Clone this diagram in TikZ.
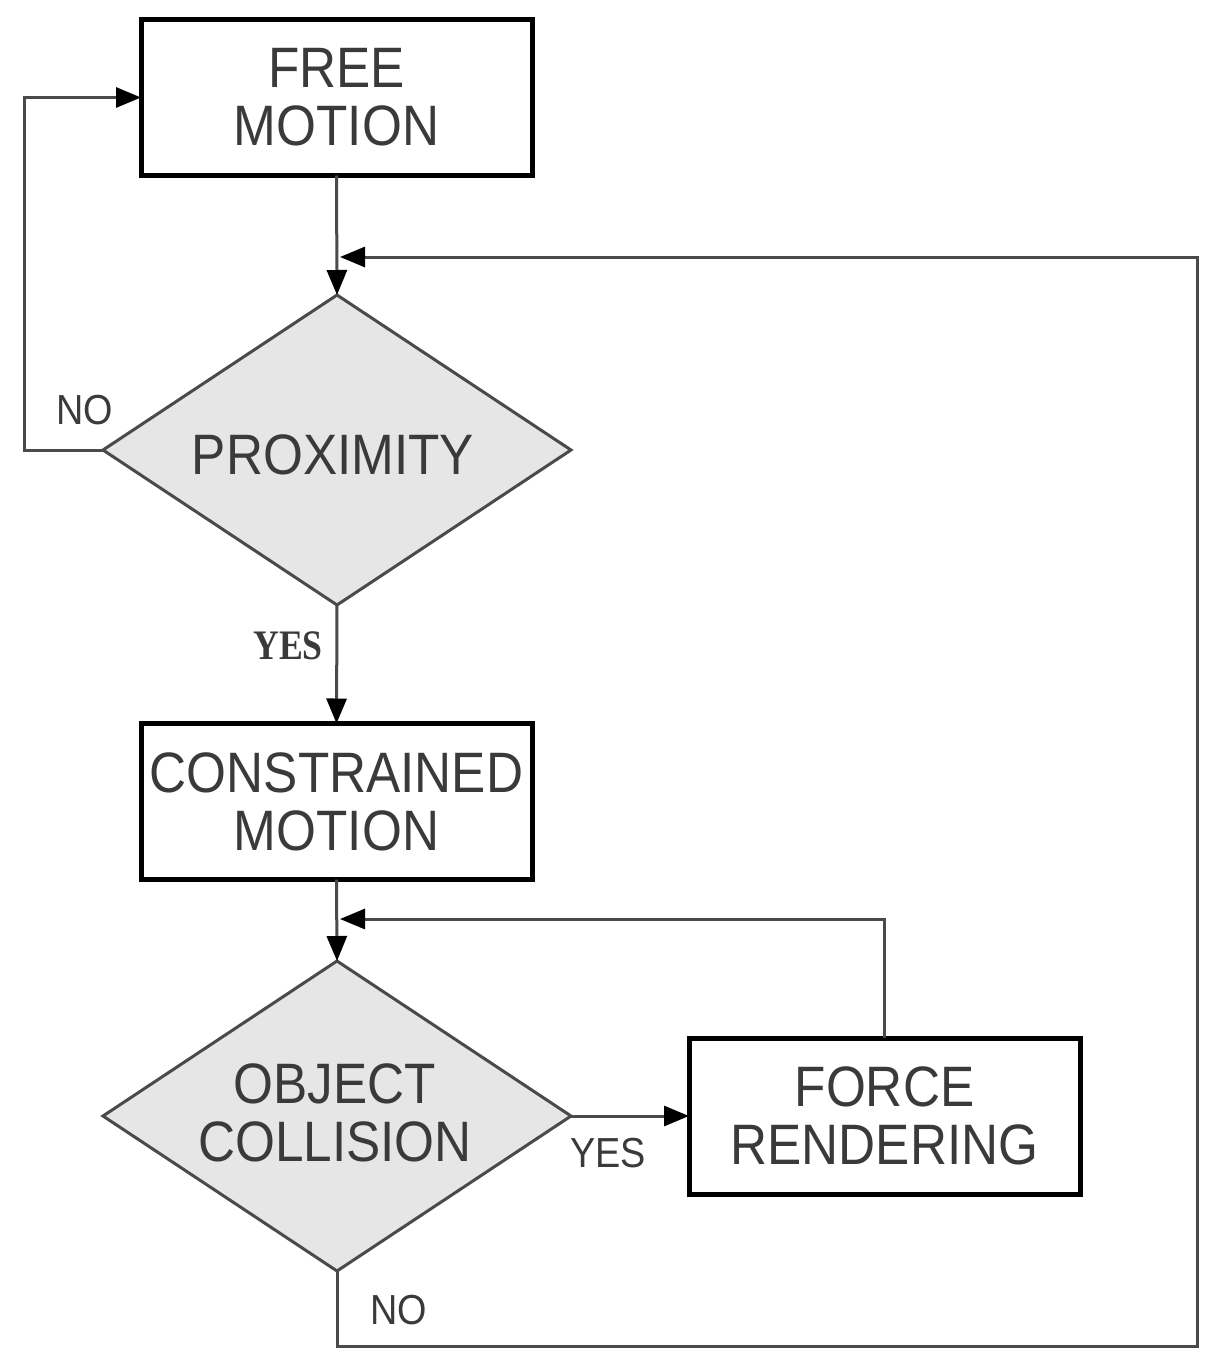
\documentclass[tikz,border=0pt]{standalone}
\usepackage{fontspec}
\usetikzlibrary{shapes.geometric,arrows.meta}
\newfontfamily\labfont[FakeStretch=0.9]{Liberation Sans}
\newfontfamily\serlab[FakeStretch=0.85]{Liberation Serif}
\definecolor{txt}{HTML}{3A3A3A}
\definecolor{conn}{HTML}{4A4A4A}
\definecolor{dfill}{HTML}{E6E6E6}
\begin{document}
\begin{tikzpicture}[x=1pt,y=-1pt,
  stepbox/.style={draw=black,line width=5pt,rectangle,outer sep=0pt,inner sep=0pt,
    minimum width=391pt,minimum height=156pt,align=center,text=txt,
    font=\labfont\fontsize{57}{58}\selectfont},
  decide/.style={draw=conn,line width=3pt,diamond,fill=dfill,outer sep=0pt,inner sep=0pt,
    minimum width=468pt,minimum height=310pt,aspect=1.51},
  dtext/.style={align=center,text=txt,inner sep=0pt,font=\labfont\fontsize{57}{58}\selectfont},
  lab/.style={text=txt,inner sep=0pt,font=\labfont\fontsize{42}{44}\selectfont},
  conline/.style={draw=conn,line width=3pt},
  arr/.style={conline,-{Triangle[length=25pt,width=20pt,color=black,fill=black]}}]
\useasboundingbox (0,0) rectangle (1209,1349);
% nodes
\node[stepbox] (b1) at (336.5,97.5) {FREE\\MOTION};
\node[decide] (d1) at (337,450) {};
\node[dtext] (t1) at (333,455) {PROXIMITY};
\node[stepbox] (b2) at (336.5,801.5) {CONSTRAINED\\MOTION};
\node[decide] (d2) at (337,1116) {};
\node[dtext] (t2) at (335,1113) {OBJECT\\COLLISION};
\node[stepbox] (b3) at (884.5,1116) {FORCE\\RENDERING};
% labels
\node[lab] (no1) at (85,410) {NO};
\node[text=txt,inner sep=0pt,font=\serlab\bfseries\fontsize{42}{44}\selectfont] (yes1) at (288,646) {YES};
\node[lab] (yes2) at (608,1153) {YES};
\node[lab] (no2) at (399,1310) {NO};
% helper coordinates
\coordinate (l1) at (24,450);
\coordinate (l2) at (24,97.5);
\coordinate (j1) at (340,257);
\coordinate (r1) at (1197,257);
\coordinate (r2) at (1197,1346);
\coordinate (bt) at (337,1346);
\coordinate (j2) at (340,919);
\coordinate (u1) at (884.5,919);
% connectors
\draw[arr] (b1.south) -- (d1.north);
\draw[arr] (d1.west) -- (l1) -- (l2) -- (b1.west);
\draw[arr] (d1.south) -- (b2.north);
\draw[arr] (b2.south) -- (d2.north);
\draw[arr] (d2.east) -- (b3.west);
\draw[arr] (b3.north) -- (u1) -- (j2);
\draw[arr] (d2.south) -- (bt) -- (r2) -- (r1) -- (j1);
\end{tikzpicture}
\end{document}
